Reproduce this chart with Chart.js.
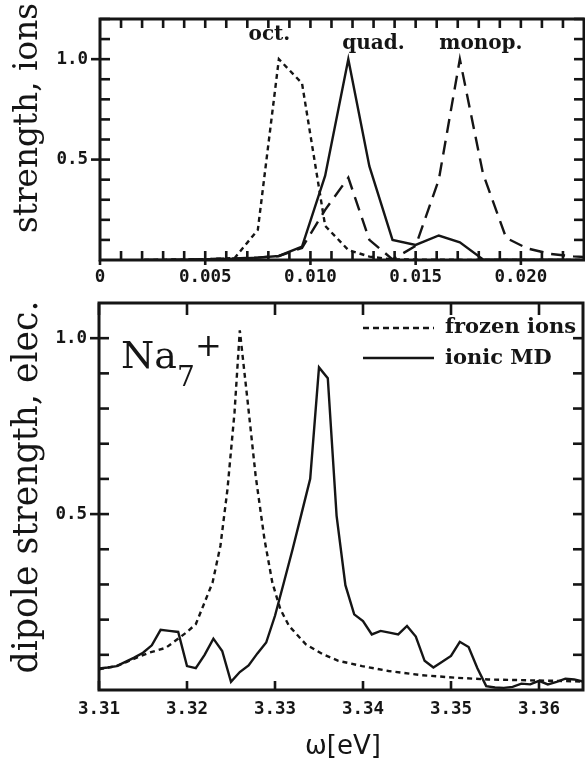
<!DOCTYPE html>
<html><head><meta charset="utf-8">
<script src="https://cdn.jsdelivr.net/npm/chart.js@4"></script>
<style>
html,body{margin:0;padding:0;background:#fff;}
#wrap{position:relative;width:585px;height:760px;overflow:hidden;background:#fff;}
canvas{position:absolute;left:0;}
#top{top:0;}
#bot{top:290px;}
</style></head><body>
<div id="wrap">
<canvas id="top" width="585" height="290"></canvas>
<canvas id="bot" width="585" height="470"></canvas>
</div>
<script>
// ---------- data: ionic vibration spectra (top panel) ----------
const ionFreq       = [0.0021,0.0032,0.0043,0.0053,0.0064,0.0075,0.0085,0.0096,0.0107,0.0118,0.0128,0.0139,0.0150,0.0161,0.0171,0.0182,0.0193,0.0203,0.0214,0.0225,0.0235];
const octStrength   = [0.000,0.002,0.003,0.005,0.010,0.150,1.000,0.880,0.170,0.050,0.017,0.003,0.002,0.001,0.001,0.000,0.000,0.000,0.000,0.000,0.000];
const quadStrength  = [0.000,0.000,0.002,0.004,0.007,0.012,0.020,0.067,0.420,1.000,0.467,0.100,0.075,0.122,0.088,0.003,0.002,0.001,0.001,0.000,0.000];
const monopStrength = [0.000,0.000,0.003,0.005,0.008,0.012,0.020,0.060,0.250,0.410,0.100,0.003,0.070,0.400,1.000,0.430,0.110,0.058,0.030,0.018,0.012];

// ---------- data: electronic dipole spectra (bottom panel) ----------
const mdFreq     = [3.310,3.311,3.312,3.313,3.314,3.315,3.316,3.317,3.318,3.319,3.320,3.321,3.322,3.323,3.324,3.325,3.326,3.327,3.328,3.329,3.330,3.331,3.332,3.333,3.334,3.335,3.336,3.337,3.338,3.339,3.340,3.341,3.342,3.343,3.344,3.345,3.346,3.347,3.348,3.349,3.350,3.351,3.352,3.353,3.354,3.355,3.356,3.357,3.358,3.359,3.360,3.361,3.362,3.363,3.364,3.365];
const mdStrength = [0.061,0.064,0.068,0.080,0.092,0.106,0.127,0.171,0.168,0.165,0.068,0.062,0.100,0.146,0.111,0.023,0.051,0.070,0.104,0.135,0.211,0.305,0.400,0.500,0.600,0.917,0.886,0.495,0.298,0.215,0.196,0.158,0.168,0.163,0.158,0.182,0.152,0.083,0.064,0.080,0.097,0.137,0.122,0.062,0.011,0.007,0.006,0.009,0.018,0.016,0.026,0.016,0.023,0.032,0.030,0.024];
const frozenFreq     = [3.3100,3.3120,3.3138,3.3157,3.3176,3.3189,3.3199,3.3210,3.3220,3.3229,3.3238,3.3246,3.3254,3.3260,3.3269,3.3278,3.3288,3.3297,3.3306,3.3316,3.3335,3.3354,3.3372,3.3399,3.3429,3.3467,3.3505,3.3542,3.3580,3.3618,3.3650];
const frozenStrength = [0.059,0.068,0.087,0.106,0.120,0.144,0.163,0.187,0.249,0.305,0.410,0.571,0.789,1.022,0.818,0.609,0.429,0.305,0.230,0.182,0.130,0.102,0.083,0.068,0.054,0.042,0.035,0.030,0.028,0.026,0.024];

// ---------- ticks & labels ----------
const topXTicks      = [0, 0.005, 0.010, 0.015, 0.020];
const topXTickLabels = ['0', '0.005', '0.010', '0.015', '0.020'];
const botXTicks      = [3.31, 3.32, 3.33, 3.34, 3.35, 3.36];
const botXTickLabels = ['3.31', '3.32', '3.33', '3.34', '3.35', '3.36'];
const yTicks         = [0.5, 1.0];
const yTickLabels    = ['0.5', '1.0'];
const modeLabels     = ['oct.', 'quad.', 'monop.'];
const seriesLabels   = ['frozen ions', 'ionic MD'];
const topYTitle = 'strength, ions';
const botYTitle = 'dipole strength, elec.';
const xTitle = 'ω[eV]';

const INK = '#151515';
const TICK_FONT = {family: 'DejaVu Sans Mono', weight: 'bold', size: 17.5};
const TW = 2.6; // tick mark thickness

function pts(xs, ys){ return xs.map((x,i)=>({x:x, y:ys[i]})); }
function mkLine(label, data, dash){
  return {label, data, showLine:true, borderColor:INK, borderWidth:2.4, borderDash:dash,
          pointRadius:0, fill:false, tension:0};
}
function fitSize(ctx, text, weight, family, width){
  ctx.font = weight + ' 100px ' + family;
  return 100 * width / ctx.measureText(text).width;
}
function vTitle(ctx, text, x, cy, span){
  const fam = '"DejaVu Serif"';
  const s = fitSize(ctx, text, 'normal', fam, span);
  ctx.save();
  ctx.font = 'normal ' + s.toFixed(2) + 'px ' + fam;
  ctx.fillStyle = INK; ctx.textAlign = 'center'; ctx.textBaseline = 'alphabetic';
  ctx.translate(x, cy); ctx.rotate(-Math.PI/2);
  ctx.fillText(text, 0, 0);
  ctx.restore();
}
function drawFrame(ctx, a){
  ctx.save(); ctx.setLineDash([]); ctx.strokeStyle = INK; ctx.lineWidth = 3;
  ctx.strokeRect(a.left, a.top, a.right - a.left, a.bottom - a.top);
  ctx.restore();
}
function vTick(ctx, px, y0, y1){ ctx.fillRect(px - TW/2, Math.min(y0, y1), TW, Math.abs(y1 - y0)); }
function hTick(ctx, py, x0, x1){ ctx.fillRect(Math.min(x0, x1), py - TW/2, Math.abs(x1 - x0), TW); }
function fixX(h){ return function(s){ s.height = h; s.paddingLeft = 0; s.paddingRight = 0; }; }
function fixY(w){ return function(s){ s.width = w; s.paddingTop = 0; s.paddingBottom = 0; }; }

// ---------- top panel ----------
const topDecor = {
  id: 'topDecor',
  afterDraw(chart){
    const {ctx, chartArea:a, scales:{x, y}} = chart;
    ctx.save();
    ctx.fillStyle = INK;
    for (let i = 1; i * 0.001 < x.max; i++){
      const px = x.getPixelForValue(i * 0.001);
      vTick(ctx, px, a.bottom, a.bottom - 9);
      vTick(ctx, px, a.top, a.top + 9);
    }
    topXTicks.forEach(v => vTick(ctx, x.getPixelForValue(v), a.bottom, a.bottom + 5));
    for (let i = 1; i * 0.1 < y.max + 1e-9; i++){
      const py = y.getPixelForValue(i * 0.1);
      hTick(ctx, py, a.left, a.left + 10);
      hTick(ctx, py, a.right, a.right - 10);
    }
    yTicks.forEach(v => hTick(ctx, y.getPixelForValue(v), a.left, a.left - 9));
    ctx.restore();
    drawFrame(ctx, a);

    const pos = [[0.00805, 1.095], [0.0130, 1.05], [0.0181, 1.05]];
    ctx.save();
    ctx.fillStyle = INK; ctx.font = 'bold 20px "DejaVu Serif"'; ctx.textAlign = 'center'; ctx.textBaseline = 'alphabetic';
    modeLabels.forEach((t, i) => ctx.fillText(t, x.getPixelForValue(pos[i][0]), y.getPixelForValue(pos[i][1])));
    ctx.restore();

    vTitle(ctx, topYTitle, 37, 118, 230);
  }
};

new Chart(document.getElementById('top'), {
  type: 'scatter',
  data: {datasets: [
    mkLine(modeLabels[0], pts(ionFreq, octStrength), [5, 4]),
    mkLine(modeLabels[1], pts(ionFreq, quadStrength), []),
    mkLine(modeLabels[2], pts(ionFreq, monopStrength), [14, 8])
  ]},
  options: {
    responsive: false, devicePixelRatio: 1, animation: false, events: [],
    layout: {padding: {top: 19, right: 1, left: 0, bottom: 0}},
    plugins: {legend: {display: false}, tooltip: {enabled: false}},
    scales: {
      x: {type: 'linear', min: 0, max: 0.023,
          afterFit: fixX(30),
          afterBuildTicks(s){ s.ticks = topXTicks.map(v => ({value: v})); },
          grid: {display: false, drawTicks: false}, border: {display: false},
          ticks: {autoSkip: false, maxRotation: 0, padding: 7, font: TICK_FONT, color: INK,
                  callback: (v, i) => topXTickLabels[i]}},
      y: {type: 'linear', min: 0, max: 1.2,
          afterFit: fixY(100),
          afterBuildTicks(s){ s.ticks = yTicks.map(v => ({value: v})); },
          grid: {display: false, drawTicks: false}, border: {display: false},
          ticks: {padding: 12, font: TICK_FONT, color: INK, callback: (v, i) => yTickLabels[i]}}
    }
  },
  plugins: [topDecor]
});

// ---------- bottom panel (canvas starts at page y = 290) ----------
const OFF = 290;
const botDecor = {
  id: 'botDecor',
  afterDraw(chart){
    const {ctx, chartArea:a, scales:{x, y}} = chart;
    ctx.save();
    ctx.fillStyle = INK;
    botXTicks.forEach(v => {
      const px = x.getPixelForValue(v);
      vTick(ctx, px, a.bottom, a.bottom - 9);
      vTick(ctx, px, a.top, a.top + 12);
    });
    for (let i = 1; i * 0.1 < y.max - 1e-9; i++){
      const py = y.getPixelForValue(i * 0.1);
      hTick(ctx, py, a.left, a.left + 10);
      hTick(ctx, py, a.right, a.right - 10);
    }
    yTicks.forEach(v => hTick(ctx, y.getPixelForValue(v), a.left, a.left - 9));
    ctx.restore();
    drawFrame(ctx, a);

    // legend
    ctx.save();
    ctx.strokeStyle = INK; ctx.lineWidth = 2.4;
    const legY = [328 - OFF, 358 - OFF];
    const dashes = [[6, 4], []];
    for (let i = 0; i < 2; i++){
      ctx.setLineDash(dashes[i]);
      ctx.beginPath(); ctx.moveTo(363, legY[i]); ctx.lineTo(434, legY[i]); ctx.stroke();
    }
    ctx.setLineDash([]);
    ctx.fillStyle = INK; ctx.textAlign = 'left'; ctx.textBaseline = 'middle';
    ctx.font = 'bold 21px "DejaVu Serif"';
    ctx.fillText(seriesLabels[0], 445, legY[0]);
    ctx.fillText(seriesLabels[1], 445, legY[1] + 1);
    ctx.restore();

    // Na7+
    ctx.save();
    ctx.fillStyle = INK; ctx.textBaseline = 'alphabetic'; ctx.textAlign = 'left';
    ctx.font = '38px "DejaVu Serif"';
    ctx.fillText('Na', 121, 368 - OFF);
    const w = ctx.measureText('Na').width;
    ctx.font = '28px "DejaVu Serif"';
    ctx.fillText('7', 121 + w, 386 - OFF);
    ctx.font = '32px "DejaVu Serif"';
    ctx.fillText('+', 121 + w + 18, 356 - OFF);
    ctx.restore();

    vTitle(ctx, botYTitle, 37, 487 - OFF, 373);

    ctx.save();
    ctx.fillStyle = INK; ctx.font = '26px "DejaVu Sans"'; ctx.textAlign = 'center'; ctx.textBaseline = 'alphabetic';
    ctx.fillText(xTitle, 343, 754 - OFF);
    ctx.restore();
  }
};

new Chart(document.getElementById('bot'), {
  type: 'scatter',
  data: {datasets: [
    mkLine(seriesLabels[0], pts(frozenFreq, frozenStrength), [5, 4]),
    mkLine(seriesLabels[1], pts(mdFreq, mdStrength), [])
  ]},
  options: {
    responsive: false, devicePixelRatio: 1, animation: false, events: [],
    layout: {padding: {top: 303 - OFF, right: 2, left: 0, bottom: 0}},
    plugins: {legend: {display: false}, tooltip: {enabled: false}},
    scales: {
      x: {type: 'linear', min: 3.31, max: 3.365,
          afterFit: fixX(70),
          afterBuildTicks(s){ s.ticks = botXTicks.map(v => ({value: v})); },
          grid: {display: false, drawTicks: false}, border: {display: false},
          ticks: {autoSkip: false, maxRotation: 0, padding: 9, font: TICK_FONT, color: INK,
                  callback: (v, i) => botXTickLabels[i]}},
      y: {type: 'linear', min: 0, max: 1.1,
          afterFit: fixY(99),
          afterBuildTicks(s){ s.ticks = yTicks.map(v => ({value: v})); },
          grid: {display: false, drawTicks: false}, border: {display: false},
          ticks: {padding: 12, font: TICK_FONT, color: INK, callback: (v, i) => yTickLabels[i]}}
    }
  },
  plugins: [botDecor]
});
</script>
</body></html>
